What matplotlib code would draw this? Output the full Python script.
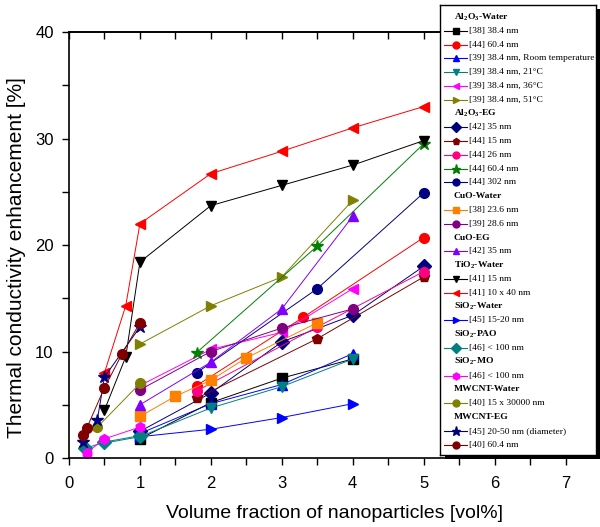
import matplotlib
matplotlib.use("Agg")
import matplotlib.pyplot as plt
from matplotlib.patches import Rectangle
from matplotlib.ticker import MultipleLocator, NullFormatter

plt.rcParams['font.family'] = ['Liberation Sans', 'DejaVu Sans']
plt.rcParams['mathtext.fontset'] = 'custom'
plt.rcParams['mathtext.rm'] = 'Liberation Serif'
plt.rcParams['mathtext.bf'] = 'Liberation Serif:bold'

# fluid groups (legend headers)
groups = [r'$\mathbf{Al_2O_3}$-Water', r'$\mathbf{Al_2O_3}$-EG', 'CuO-Water', 'CuO-EG',
          r'$\mathbf{TiO_2}$-Water', r'$\mathbf{SiO_2}$-Water', r'$\mathbf{SiO_2}$-PAO',
          r'$\mathbf{SiO_2}$-MO', 'MWCNT-Water', 'MWCNT-EG']

labels = ['[38] 38.4 nm', '[44] 60.4 nm', '[39] 38.4 nm, Room temperature',
          '[39] 38.4 nm, 21°C', '[39] 38.4 nm, 36°C', '[39] 38.4 nm, 51°C',
          '[42] 35 nm', '[44] 15 nm', '[44] 26 nm', '[44] 60.4 nm', '[44] 302 nm',
          '[38] 23.6 nm', '[39] 28.6 nm',
          '[42] 35 nm',
          '[41] 15 nm', '[41] 10 x 40 nm',
          '[45] 15-20 nm',
          '[46] < 100 nm',
          '[46] < 100 nm',
          '[40] 15 x 30000 nm',
          '[45] 20-50 nm (diameter)', '[40] 60.4 nm']
group_of = [0, 0, 0, 0, 0, 0, 1, 1, 1, 1, 1, 2, 2, 3, 4, 4, 5, 6, 7, 8, 9, 9]

# volume fraction [vol%]
xs = [[1, 2, 3, 4],
      [1.8, 3.3, 5],
      [1, 2, 3, 4],
      [0.5, 1, 2, 3, 4],
      [1, 2, 3, 4],
      [1, 2, 3, 4],
      [1, 2, 3, 4, 5],
      [1.8, 3.5, 5],
      [1.8, 3.5, 5],
      [1.8, 3.5, 5],
      [1.8, 3.5, 5],
      [1, 1.5, 2, 2.5, 3.5],
      [1, 2, 3, 4],
      [1, 2, 3, 4],
      [0.5, 0.8, 1, 2, 3, 4, 5],
      [0.5, 0.8, 1, 2, 3, 4, 5],
      [1, 2, 3, 4],
      [0.23, 0.5, 1],
      [0.25, 0.5, 1],
      [0.4, 1],
      [0.2, 0.4, 0.5, 1],
      [0.2, 0.25, 0.5, 0.75, 1]]

# thermal conductivity enhancement [%]
ys = [[1.8, 5.2, 7.5, 9.3],
      [6.8, 13.2, 20.7],
      [2.3, 5.1, 6.9, 9.8],
      [1.4, 2.0, 4.7, 6.7, 9.3],
      [6.8, 10.2, 11.8, 15.9],
      [10.7, 14.3, 17.0, 24.2],
      [2.5, 6.1, 10.9, 13.4, 18.0],
      [5.6, 11.2, 17.0],
      [6.3, 12.3, 17.5],
      [9.9, 19.9, 29.5],
      [8.0, 15.9, 24.9],
      [3.9, 5.8, 7.3, 9.4, 12.7],
      [6.4, 10.0, 12.2, 14.0],
      [5.0, 9.0, 14.0, 22.7],
      [4.5, 9.5, 18.4, 23.7, 25.6, 27.5, 29.8],
      [8.0, 14.3, 22.0, 26.7, 28.8, 31.0, 33.0],
      [2.0, 2.7, 3.8, 5.1],
      [0.9, 1.5, 2.1],
      [0.5, 1.8, 2.9],
      [2.9, 7.0],
      [1.5, 3.6, 7.6, 12.3],
      [2.2, 2.8, 6.6, 9.8, 12.7]]

colors = ['#000000', '#ff0000', '#0000ff', '#008080', '#ff00ff', '#808000',
          '#000080', '#800000', '#ff0080', '#008000', '#000080',
          '#ff8000', '#800080', '#8000ff', '#000000', '#ff0000', '#0000ff',
          '#008080', '#ff00ff', '#808000', '#000080', '#800000']
markers = ['s', 'o', '^', 'v', '<', '>', 'D', 'p', 'o', '*', 'o',
           's', 'o', '^', 'v', '<', '>', 'D', 'h', 'o', '*', 'o']


def main():
    fig = plt.figure(figsize=(6, 5.27), dpi=100)
    ax = fig.add_axes([69 / 600, 69 / 527, 532 / 600, 426 / 527])
    ax.set_zorder(0)

    for i in range(len(xs)):
        ms = 9 if markers[i] == '*' else 7
        ax.plot(xs[i], ys[i], color=colors[i], lw=0.7, marker=markers[i],
                ms=ms, mec=colors[i], mfc=colors[i])

    ax.set_xlim(0, 7.5)
    ax.set_ylim(0, 40)
    ax.xaxis.set_major_locator(MultipleLocator(1))
    ax.xaxis.set_minor_locator(MultipleLocator(0.5))
    ax.yaxis.set_major_locator(MultipleLocator(10))
    ax.yaxis.set_minor_locator(MultipleLocator(5))
    ax.tick_params(which='both', direction='out', length=5, width=1,
                   labelsize=12, top=False, right=False)
    ax.tick_params(axis='x', pad=8)
    ax.tick_params(axis='y', pad=6)
    for spine in ax.spines.values():
        spine.set_linewidth(1.2)

    # top axis: inward ticks, no labels
    top = ax.secondary_xaxis('top')
    top.xaxis.set_major_locator(MultipleLocator(1))
    top.xaxis.set_minor_locator(MultipleLocator(0.5))
    top.xaxis.set_major_formatter(NullFormatter())
    top.tick_params(which='both', direction='in', length=5, width=1)
    top.spines['top'].set_linewidth(1.2)

    fig.text(17 / 600, 1 - 258 / 527, 'Thermal conductivity enhancement [%]',
             rotation=90, ha='center', va='center', fontsize=15)
    fig.text(335 / 600, 1 - 514 / 527, 'Volume fraction of nanoparticles [vol%]',
             ha='center', va='center', fontsize=14)

    # legend box with shadow, drawn in pixel units
    shadow = Rectangle((445 / 600, 1 - 459 / 527), 155 / 600, 450 / 527,
                       transform=fig.transFigure, facecolor='black', zorder=1)
    fig.add_artist(shadow)
    lax = fig.add_axes([440 / 600, 1 - 455 / 527, 156 / 600, 450 / 527])
    lax.set_zorder(2)
    lax.set_xlim(440, 596)
    lax.set_ylim(455, 5)
    lax.set_xticks([])
    lax.set_yticks([])
    for spine in lax.spines.values():
        spine.set_linewidth(1)

    rows = []
    for g in range(len(groups)):
        rows.append(('h', g))
        for i in range(len(labels)):
            if group_of[i] == g:
                rows.append(('e', i))

    step = (444.5 - 17) / (len(rows) - 1)
    for r, (kind, k) in enumerate(rows):
        y = 17 + r * step
        if kind == 'h':
            lax.text(454, y, groups[k], fontsize=6.8, fontweight='bold',
                     family='Liberation Serif', va='center')
        else:
            lax.plot([444, 467], [y, y], color=colors[k], lw=0.8)
            ms = 6.5 if markers[k] == '*' else 5
            lax.plot([456], [y], marker=markers[k], ms=ms, color=colors[k],
                     mec=colors[k])
            lax.text(469, y, labels[k], fontsize=6.8, family='Liberation Serif',
                     va='center')

    fig.savefig('out.png', dpi=100)


if __name__ == '__main__':
    main()
